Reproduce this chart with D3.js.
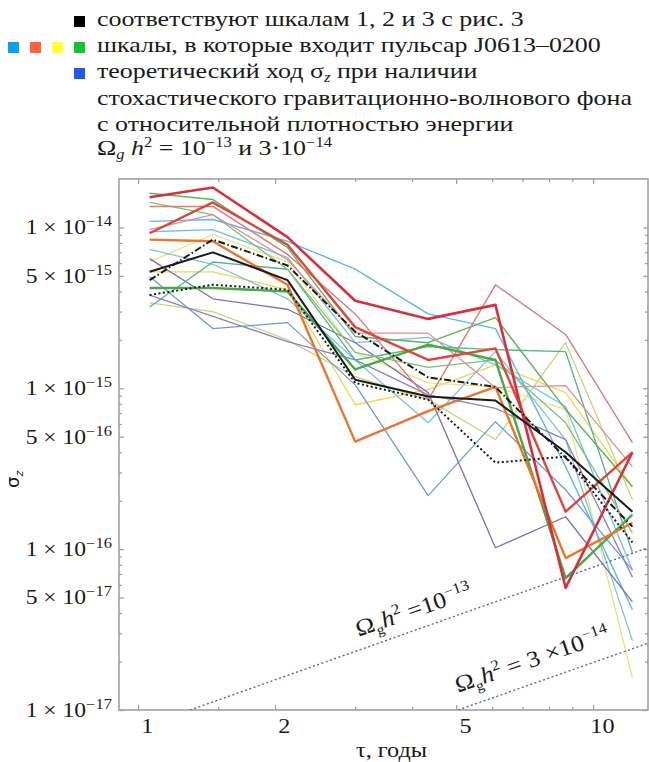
<!DOCTYPE html>
<html>
<head>
<meta charset="utf-8">
<script src="https://cdn.jsdelivr.net/npm/d3@7"></script>
<style>
  body { margin: 0; background: #fff; }
  svg { display: block; }
  text { font-family: "Liberation Serif", serif; fill: #1a1a1a; }
</style>
</head>
<body>
<div id="chart"></div>
<script>
// ---- data ----
const tau = [1.06, 1.46, 2.13, 3.0, 4.34, 6.1, 8.7, 12.2];

// black: scales 1, 2, 3 from fig. 3
const blackSolid = [5.3e-15, 7.0e-15, 4.7e-15, 1.13e-15, 8.9e-16, 8.4e-16, 4.0e-16, 1.71e-16];
const blackDashDot = [4.7e-15, 8.4e-15, 5.8e-15, 2.25e-15, 1.17e-15, 1.02e-15, 3.7e-16, 1.38e-16];
const blackDotted = [3.8e-15, 4.4e-15, 4.1e-15, 1.08e-15, 8.5e-16, 3.45e-16, 3.76e-16, 1.1e-16];

// scales that include J0613-0200
const redA = [1.54e-14, 1.77e-14, 8.7e-15, 3.5e-15, 2.7e-15, 3.3e-15, 5.75e-17, 4.0e-16];
const redB = [9.2e-15, 1.43e-14, 7.8e-15, 2.4e-15, 1.5e-15, 1.77e-15, 1.71e-16, 4.0e-16];
const paleRed1 = [1.35e-14, 1.35e-14, 6.8e-15, 2.9e-15, 8.5e-16, 4.4e-15, 2.16e-15, 4.6e-16];
const paleRed2 = [9.7e-15, 1.2e-14, 6.3e-15, 2.2e-15, 2.2e-15, 1.01e-15, 1.04e-15, 3.26e-16];
const orange = [8.4e-15, 8.2e-15, 4.4e-15, 4.66e-16, 7.2e-16, 1.02e-15, 8.8e-17, 1.46e-16];
const green1 = [1.63e-14, 1.49e-14, 7.5e-15, 2.1e-15, 1.92e-15, 2.75e-15, 7.4e-16, 2.44e-16];
const green2 = [1.43e-14, 1.2e-14, 5.5e-15, 1.67e-15, 1.35e-15, 1.5e-15, 6.1e-16, 1.26e-16];
const greenThick = [4.2e-15, 4.2e-15, 4.0e-15, 1.31e-15, 1.87e-15, 1.5e-15, 6.6e-17, 1.64e-16];
const teal = [3.2e-15, 6.1e-15, 5.5e-15, 1.5e-15, 1.82e-15, 1.74e-15, 1.69e-15, 9.5e-17];
const cyan1 = [1.09e-14, 1.12e-14, 8.2e-15, 5.5e-15, 2.9e-15, 2.35e-15, 3.26e-16, 4.2e-17];
const cyan2 = [9.4e-15, 9.7e-15, 6.5e-15, 1.92e-15, 2.07e-15, 1.4e-15, 7.7e-16, 7.4e-17];
const cyan3 = [7.3e-15, 5.9e-15, 3.6e-15, 1.5e-15, 6.1e-16, 1.69e-15, 4.8e-16, 2.7e-17];
const blue = [4.95e-15, 2.35e-15, 2.56e-15, 1.05e-15, 2.15e-16, 6.2e-16, 2.34e-16, 7.4e-17];
const purple1 = [6.4e-15, 3.6e-15, 3.1e-15, 1.92e-15, 9.4e-16, 1.02e-16, 1.59e-16, 4.7e-17];
const purple2 = [3.8e-15, 2.8e-15, 1.95e-15, 1.5e-15, 9.1e-16, 7.5e-16, 4.8e-16, 6.7e-17];
const yellow1 = [5.3e-15, 5.3e-15, 4.1e-15, 7.9e-16, 9.8e-16, 1.4e-15, 9.4e-16, 2.44e-16];
const yellow2 = [6.1e-15, 9.05e-15, 6.1e-15, 1.67e-15, 1.08e-15, 1.02e-15, 7.4e-16, 1.58e-17];
const yellowGreen = [3.4e-15, 3.0e-15, 2.0e-15, 1.18e-15, 8.5e-16, 4.8e-16, 1.92e-15, 2.03e-16];

// theoretical sigma_z for a GW background (two end points each)
const theoryTau1 = [1.30, 13.2], theorySigma1 = [1e-17, 1.02e-16];   // Omega h^2 = 1e-13
const theoryTau2 = [5.05, 13.2], theorySigma2 = [1e-17, 2.6e-17];    // Omega h^2 = 3e-14

// ticks
const xMajor = [1, 2, 5, 10];
const xMinor = [1.5, 3, 4, 6, 7, 8, 9];
const yMajor = [1e-17, 5e-17, 1e-16, 5e-16, 1e-15, 5e-15, 1e-14];
const yMinor = [2e-17, 3e-17, 4e-17, 6e-17, 7e-17, 8e-17, 9e-17,
                2e-16, 3e-16, 4e-16, 6e-16, 7e-16, 8e-16, 9e-16,
                2e-15, 3e-15, 4e-15, 6e-15, 7e-15, 8e-15, 9e-15];

// legend
const legendLines = [
  [["соответствуют шкалам 1, 2 и 3 с рис. 3"]],
  [["шкалы, в которые входит пульсар J0613–0200"]],
  [["теоретический ход σ"], ["z", "subit"], [" при наличии"]],
  [["стохастического гравитационно-волнового фона"]],
  [["с относительной плотностью энергии"]],
  [["Ω"], ["g", "subit"], [" "], ["h", "it"], ["2", "sup"], [" = 10"], ["−13", "sup"], [" и 3·10"], ["−14", "sup"]]
];
const legendSwatches = [
  { row: 0, colors: ["#000000"] },
  { row: 1, colors: ["#0a9ff0", "#ff6140", "#ffff33", "#12c232"] },
  { row: 2, colors: ["#2255f2"] }
];

// ---- layout ----
const width = 649, height = 762;
const plot = { left: 119, right: 648, top: 179, bottom: 710 };
const wide = 1.18; // the original face is a wide schoolbook serif

const svg = d3.select("#chart").append("svg")
  .attr("width", width).attr("height", height);

const x = d3.scaleLog().domain([0.908, 13.2]).range([plot.left, plot.right]);
const y = d3.scaleLog().domain([1e-17, 2.0e-14]).range([plot.bottom, plot.top]);

svg.append("clipPath").attr("id", "clip")
  .append("rect")
  .attr("x", plot.left).attr("y", plot.top)
  .attr("width", plot.right - plot.left).attr("height", plot.bottom - plot.top);

// ---- axes (ticks inward on all sides) ----
const axisColor = "#9a9a9a";
function styleAxis(g) {
  g.select(".domain").remove();
  g.selectAll(".tick line").attr("stroke", axisColor).attr("stroke-width", 1.2);
}
svg.append("g").attr("transform", `translate(0,${plot.bottom})`)
  .call(d3.axisBottom(x).tickValues(xMajor).tickSize(-5).tickPadding(7).tickFormat(d3.format("d")))
  .call(styleAxis)
  .call(g => g.selectAll(".tick text")
    .attr("font-family", "Liberation Serif").attr("font-size", 22).attr("fill", "#1a1a1a")
    .attr("dx", 8).attr("transform", "scale(1.1,1)"));
svg.append("g").attr("transform", `translate(0,${plot.bottom})`)
  .call(d3.axisBottom(x).tickValues(xMinor).tickSize(-3).tickFormat(""))
  .call(styleAxis);
svg.append("g").attr("transform", `translate(0,${plot.top})`)
  .call(d3.axisTop(x).tickValues(xMajor).tickSize(-5).tickFormat(""))
  .call(styleAxis);
svg.append("g").attr("transform", `translate(0,${plot.top})`)
  .call(d3.axisTop(x).tickValues(xMinor).tickSize(-3).tickFormat(""))
  .call(styleAxis);

svg.append("g").attr("transform", `translate(${plot.left},0)`)
  .call(d3.axisLeft(y).tickValues(yMajor).tickSize(-5).tickPadding(6).tickFormat(""))
  .call(styleAxis)
  .call(g => g.selectAll(".tick text").each(function (d) {
    const e = Math.floor(Math.log10(d) + 1e-9);
    const m = Math.round(d / Math.pow(10, e));
    const t = d3.select(this)
      .attr("font-family", "Liberation Serif").attr("font-size", 20).attr("fill", "#1a1a1a")
      .attr("transform", `scale(${wide},1)`);
    t.text(null);
    t.append("tspan").text(`${m} × 10`);
    t.append("tspan").attr("dy", -8).attr("font-size", 14).text(`−${-e}`);
  }));
svg.append("g").attr("transform", `translate(${plot.left},0)`)
  .call(d3.axisLeft(y).tickValues(yMinor).tickSize(-3).tickFormat(""))
  .call(styleAxis);
svg.append("g").attr("transform", `translate(${plot.right},0)`)
  .call(d3.axisRight(y).tickValues(yMajor).tickSize(-5).tickFormat(""))
  .call(styleAxis);
svg.append("g").attr("transform", `translate(${plot.right},0)`)
  .call(d3.axisRight(y).tickValues(yMinor).tickSize(-3).tickFormat(""))
  .call(styleAxis);

// frame
svg.append("rect")
  .attr("x", plot.left).attr("y", plot.top)
  .attr("width", plot.right - plot.left).attr("height", plot.bottom - plot.top)
  .attr("fill", "none").attr("stroke", axisColor).attr("stroke-width", 1.5);

// ---- lines ----
const line = d3.line().x(d => x(d[0])).y(d => y(d[1]));
const pts = vals => tau.map((t, i) => [t, vals[i]]);

const series = [
  { v: yellowGreen, c: "#c3d77a", w: 1.3 },
  { v: yellow1, c: "#f0d64e", w: 1.3 },
  { v: yellow2, c: "#ede27a", w: 1.3 },
  { v: cyan3, c: "#7cc4dc", w: 1.3 },
  { v: cyan2, c: "#6cc3e6", w: 1.3 },
  { v: cyan1, c: "#5bb9e4", w: 1.4 },
  { v: blue, c: "#6d9bd8", w: 1.3 },
  { v: purple1, c: "#7a70b8", w: 1.3 },
  { v: purple2, c: "#8a82c2", w: 1.3 },
  { v: teal, c: "#55b58e", w: 1.4 },
  { v: green2, c: "#79c27a", w: 1.3 },
  { v: green1, c: "#5cb35e", w: 1.4 },
  { v: paleRed2, c: "#e48c96", w: 1.3 },
  { v: paleRed1, c: "#de7a78", w: 1.4 },
  { v: greenThick, c: "#4aa846", w: 2.4 },
  { v: orange, c: "#e8762c", w: 2.4 },
  { v: redB, c: "#e0453a", w: 2.4 },
  { v: redA, c: "#d4313d", w: 2.6 },
  { v: blackDotted, c: "#1a1a1a", w: 2.0, dash: "2,2.5" },
  { v: blackDashDot, c: "#1a1a1a", w: 2.0, dash: "7,2.5,1.5,2.5" },
  { v: blackSolid, c: "#1a1a1a", w: 2.0 }
];

const lines = svg.append("g").attr("clip-path", "url(#clip)");
lines.selectAll("path.series")
  .data(series)
  .join("path")
  .attr("class", "series")
  .attr("fill", "none")
  .attr("stroke", d => d.c)
  .attr("stroke-width", d => d.w)
  .attr("stroke-linejoin", "round")
  .attr("stroke-dasharray", d => d.dash || null)
  .attr("d", d => line(pts(d.v)));

// theoretical background lines
const theory = [
  theoryTau1.map((t, i) => [t, theorySigma1[i]]),
  theoryTau2.map((t, i) => [t, theorySigma2[i]])
];
lines.selectAll("path.theory")
  .data(theory)
  .join("path")
  .attr("class", "theory")
  .attr("fill", "none")
  .attr("stroke", "#5a63a8")
  .attr("stroke-width", 1.4)
  .attr("stroke-dasharray", "2,2.5")
  .attr("d", line);

// labels on theoretical lines
function omegaLabel(px, py, tail) {
  const t = svg.append("text")
    .attr("transform", `translate(${px},${py}) rotate(-19) scale(1.12,1)`)
    .attr("font-size", 23);
  t.append("tspan").text("Ω");
  t.append("tspan").attr("font-size", 14).attr("dy", 5).text("g");
  t.append("tspan").attr("font-style", "italic").attr("dy", -5).text("h");
  t.append("tspan").attr("font-size", 15).attr("dy", -9).text("2");
  t.append("tspan").attr("dy", 9).text(tail[0]);
  t.append("tspan").attr("font-size", 15).attr("dy", -9).text(tail[1]);
}
omegaLabel(x(3.05), y(2.85e-17), [" =10", "−13"]);
omegaLabel(x(5.05), y(1.28e-17), [" = 3 ×10", "−14"]);

// axis titles
svg.append("text")
  .attr("transform", `translate(${(plot.left + plot.right) / 2 + 8},757) scale(1.1,1)`)
  .attr("text-anchor", "middle").attr("font-size", 22)
  .text("τ, годы");

const yt = svg.append("text")
  .attr("transform", "translate(19,488) rotate(-90)")
  .attr("font-family", "DejaVu Sans").attr("font-size", 18);
yt.append("tspan").attr("font-family", "DejaVu Sans").text("σ");
yt.append("tspan").attr("font-family", "DejaVu Sans").attr("font-size", 11).attr("font-style", "italic").attr("dy", 4).text("z");

// ---- legend ----
const legendX = 97, legendBaselines = [26, 52, 78, 105, 131, 155];
const swatchXs = [8, 30, 52, 74];
legendSwatches.forEach(s => {
  s.colors.forEach((c, i) => {
    const xs = s.colors.length === 1 ? swatchXs[3] : swatchXs[i];
    svg.append("rect")
      .attr("x", xs).attr("y", legendBaselines[s.row] - 10)
      .attr("width", 11).attr("height", 11)
      .attr("fill", c);
  });
});
legendLines.forEach((segs, r) => {
  const t = svg.append("text")
    .attr("transform", `translate(${legendX},${legendBaselines[r]}) scale(${wide},1)`)
    .attr("font-size", 22);
  let shift = 0;
  segs.forEach(([s, kind]) => {
    let target = 0, size = null, italic = false;
    if (kind === "sup") { target = -8; size = 14; }
    if (kind === "subit") { target = 4; size = 14; italic = true; }
    if (kind === "it") italic = true;
    const ts = t.append("tspan").text(s).attr("dy", target - shift);
    if (size) ts.attr("font-size", size);
    if (italic) ts.attr("font-style", "italic");
    shift = target;
  });
});
</script>
</body>
</html>
